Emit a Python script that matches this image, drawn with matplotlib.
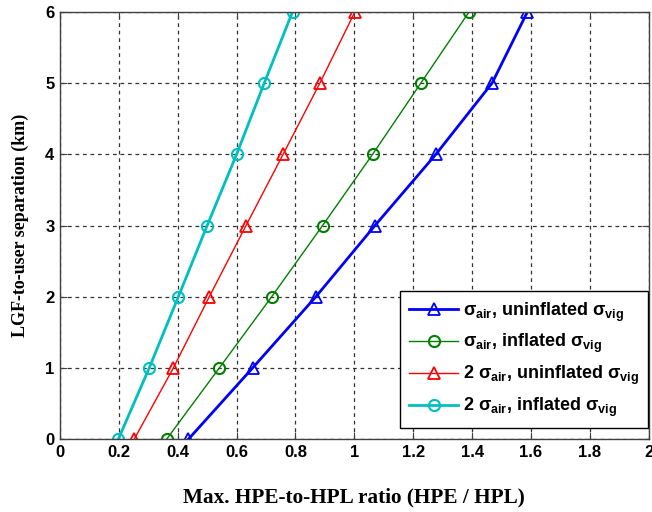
import matplotlib
matplotlib.use("Agg")
import matplotlib.pyplot as plt

sep_km = [0, 1, 2, 3, 4, 5, 6]
blue_uninfl = [0.436, 0.654, 0.869, 1.070, 1.277, 1.468, 1.588]
green_infl = [0.362, 0.541, 0.719, 0.892, 1.062, 1.226, 1.390]
red_2_uninfl = [0.252, 0.385, 0.507, 0.632, 0.758, 0.883, 1.002]
cyan_2_infl = [0.198, 0.303, 0.402, 0.500, 0.600, 0.694, 0.790]

labels = [r'$\sigma_{\rm air}$, uninflated $\sigma_{\rm vig}$',
          r'$\sigma_{\rm air}$, inflated $\sigma_{\rm vig}$',
          r'2 $\sigma_{\rm air}$, uninflated $\sigma_{\rm vig}$',
          r'2 $\sigma_{\rm air}$, inflated $\sigma_{\rm vig}$']
xticks = [0, 0.2, 0.4, 0.6, 0.8, 1, 1.2, 1.4, 1.6, 1.8, 2]
xticklabels = ['0', '0.2', '0.4', '0.6', '0.8', '1', '1.2', '1.4', '1.6', '1.8', '2']
yticks = [0, 1, 2, 3, 4, 5, 6]

plt.rcParams['mathtext.fontset'] = 'custom'
plt.rcParams['mathtext.rm'] = 'Liberation Sans:bold'
plt.rcParams['mathtext.it'] = 'Liberation Sans:bold'
plt.rcParams['mathtext.bf'] = 'Liberation Sans:bold'

fig = plt.figure(figsize=(6.52, 5.12), dpi=100)
ax = fig.add_axes([0.092, 0.142, 0.903, 0.835])

ax.plot(blue_uninfl, sep_km, color='#0000ff', lw=2.0, marker='^', ms=9, mfc='none', mew=1.3, label=labels[0])
ax.plot(green_infl, sep_km, color='#008000', lw=1.0, marker='o', ms=8, mfc='none', mew=1.5, label=labels[1])
ax.plot(red_2_uninfl, sep_km, color='#ff0000', lw=1.0, marker='^', ms=9, mfc='none', mew=1.3, label=labels[2])
ax.plot(cyan_2_infl, sep_km, color='#00bfbf', lw=2.0, marker='o', ms=8, mfc='none', mew=1.5, label=labels[3])

ax.set_xlim(0, 2)
ax.set_ylim(0, 6)
ax.set_xticks(xticks)
ax.set_xticklabels(xticklabels)
ax.set_yticks(yticks)
for t in ax.get_xticklabels() + ax.get_yticklabels():
    t.set_family('Liberation Sans')
    t.set_fontweight('bold')
    t.set_fontsize(12)
ax.tick_params(direction='in', top=True, right=True, length=5, color='#404040', pad=4)
ax.grid(True, color='#333333', linestyle=(0, (3, 3)), lw=0.9)
for s in ax.spines.values():
    s.set_color('#404040')
    s.set_linewidth(1.0)
ax.set_axisbelow(True)

ax.set_xlabel('Max. HPE-to-HPL ratio (HPE / HPL)', family='Liberation Serif', fontweight='bold', fontsize=15.3, labelpad=20)
ax.set_ylabel('LGF-to-user separation (km)', family='Liberation Serif', fontweight='bold', fontsize=13, labelpad=12)

leg = ax.legend(loc='lower right', bbox_to_anchor=(0.998, 0.026), borderaxespad=0,
                prop={'family': 'Liberation Sans', 'weight': 'bold', 'size': 13},
                fancybox=False, edgecolor='black', framealpha=1, handlelength=2.7,
                handletextpad=0.25, labelspacing=0.48, borderpad=0.5)
leg.get_frame().set_linewidth(1.0)

fig.savefig('out.png', dpi=100)
